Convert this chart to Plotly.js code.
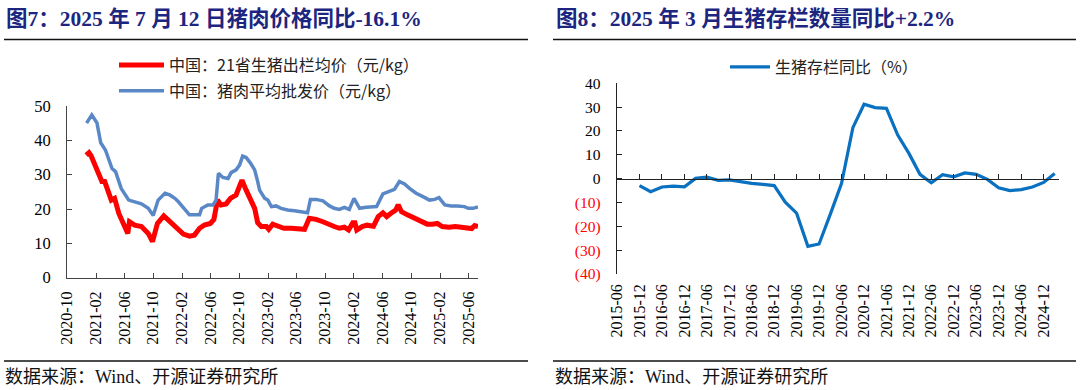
<!DOCTYPE html>
<html>
<head>
<meta charset="utf-8">
<script src="https://cdn.plot.ly/plotly-3.0.1.min.js"></script>
<style>
html,body{margin:0;padding:0;background:#fff;}
#chart{width:1080px;height:390px;}
</style>
</head>
<body>
<div id="chart"></div>
<script>
// ---------- Figure 7 data ----------
const hogDates = ['2020-12-20','2021-01-01','2021-01-10','2021-01-19','2021-01-30','2021-02-08','2021-02-15','2021-02-25','2021-03-09','2021-03-22','2021-04-06','2021-04-20','2021-05-08','2021-05-27','2021-06-15','2021-06-22','2021-07-14','2021-08-12','2021-09-10','2021-09-28','2021-10-19','2021-11-15','2021-12-04','2021-12-24','2022-01-16','2022-02-06','2022-03-04','2022-03-25','2022-04-16','2022-05-06','2022-06-01','2022-06-16','2022-07-01','2022-07-16','2022-08-07','2022-08-25','2022-09-18','2022-10-13','2022-10-31','2022-11-22','2022-12-06','2022-12-19','2023-01-03','2023-01-25','2023-02-04','2023-02-21','2023-03-14','2023-04-09','2023-05-10','2023-06-07','2023-07-06','2023-07-26','2023-08-24','2023-09-22','2023-10-20','2023-11-09','2023-12-01','2023-12-22','2024-01-09','2024-01-27','2024-02-05','2024-02-13','2024-03-07','2024-03-27','2024-04-24','2024-05-14','2024-06-03','2024-06-19','2024-07-06','2024-07-27','2024-08-07','2024-08-21','2024-09-15','2024-10-13','2024-11-10','2024-12-08','2024-12-30','2025-01-20','2025-02-10','2025-03-10','2025-04-07','2025-05-05','2025-06-01','2025-06-15','2025-06-28','2025-07-12'];
const hogPrice = [35.7,36.4,35.5,34.0,31.4,30.0,29.4,28.0,28.0,25.5,22.6,23.1,18.7,15.8,12.9,16.3,15.3,14.9,12.9,10.5,15.8,18.0,16.8,15.8,14.4,12.7,12.1,12.4,14.4,15.3,15.8,17.0,22.6,21.2,21.5,23.1,24.1,28.4,25.5,22.1,20.2,16.0,14.9,14.9,14.1,15.6,14.9,14.4,14.4,14.4,14.1,17.3,17.0,16.3,15.3,14.9,14.4,14.7,13.9,16.0,16.0,13.9,14.9,15.3,15.0,17.8,18.9,17.8,18.7,19.7,21.2,19.2,18.3,17.3,16.6,15.6,15.6,15.8,14.9,14.7,14.9,14.6,14.1,14.3,15.2,14.9];

const porkDates = ['2020-12-22','2021-01-13','2021-02-04','2021-02-20','2021-03-12','2021-04-09','2021-04-24','2021-05-18','2021-06-19','2021-07-14','2021-08-12','2021-09-10','2021-10-01','2021-10-22','2021-11-20','2021-12-10','2022-01-01','2022-01-16','2022-02-13','2022-03-04','2022-04-01','2022-04-16','2022-04-25','2022-05-21','2022-06-12','2022-06-25','2022-07-05','2022-07-24','2022-08-15','2022-08-28','2022-09-18','2022-10-03','2022-10-16','2022-10-31','2022-11-19','2022-12-06','2022-12-19','2022-12-27','2023-01-18','2023-01-31','2023-02-15','2023-03-07','2023-03-28','2023-04-25','2023-05-24','2023-06-21','2023-07-19','2023-07-31','2023-08-24','2023-09-22','2023-10-20','2023-11-09','2023-12-01','2023-12-22','2024-01-12','2024-02-01','2024-02-25','2024-03-24','2024-04-21','2024-05-07','2024-06-03','2024-07-01','2024-07-22','2024-08-12','2024-09-03','2024-09-24','2024-10-22','2024-11-20','2024-12-18','2025-01-09','2025-01-27','2025-02-21','2025-03-20','2025-04-16','2025-05-15','2025-06-01','2025-06-20','2025-07-12'];
const porkPrice = [45.0,47.4,45.1,39.3,37.2,31.8,30.9,26.0,22.6,22.1,21.5,20.2,18.1,22.6,24.6,24.1,23.1,22.1,19.7,18.3,18.3,18.3,20.2,21.2,21.2,22.6,30.4,29.2,28.9,30.6,31.4,32.8,35.4,35.0,33.3,31.4,28.0,25.5,23.1,22.6,20.7,20.9,20.2,19.7,19.5,19.2,18.9,22.8,22.8,22.4,20.9,20.2,19.9,20.5,19.9,23.1,20.2,20.5,20.5,20.7,24.4,25.0,25.7,28.0,27.3,26.0,24.6,23.6,22.6,22.8,23.3,21.2,20.9,20.9,20.7,20.2,20.2,20.6];

const leftTickLabels = ['2020-10','2021-02','2021-06','2021-10','2022-02','2022-06','2022-10','2023-02','2023-06','2023-10','2024-02','2024-06','2024-10','2025-02','2025-06'];
const leftYTicks = [0,10,20,30,40,50];

// ---------- Figure 8 data ----------
const stockDates = ['2015-12','2016-03','2016-06','2016-09','2016-12','2017-03','2017-06','2017-09','2017-12','2018-03','2018-06','2018-09','2018-12','2019-03','2019-06','2019-09','2019-12','2020-03','2020-06','2020-09','2020-12','2021-03','2021-06','2021-09','2021-12','2022-03','2022-06','2022-09','2022-12','2023-03','2023-06','2023-09','2023-12','2024-03','2024-06','2024-09','2024-12','2025-03'];
const stockYoY = [-2.9,-5.5,-3.5,-3.1,-3.4,0.1,0.6,-0.7,-0.5,-1.3,-2.0,-2.4,-2.9,-9.9,-14.5,-28.4,-27.4,-15.0,-2.0,21.4,31.2,29.8,29.5,18.3,10.6,1.8,-1.7,1.7,0.8,2.4,1.8,-0.3,-3.8,-5.0,-4.6,-3.5,-1.6,2.2];

const rightTickLabels = ['2015-06','2015-12','2016-06','2016-12','2017-06','2017-12','2018-06','2018-12','2019-06','2019-12','2020-06','2020-12','2021-06','2021-12','2022-06','2022-12','2023-06','2023-12','2024-06','2024-12'];
const rightYTicks = [-40,-30,-20,-10,0,10,20,30,40];

// ---------- styles ----------
const serif = 'Liberation Serif, Times New Roman, Noto Sans CJK SC, serif';
const cjk = 'Noto Sans CJK SC, Liberation Serif, sans-serif';
const navy = '#1c2680';
const axisCol = '#444';
const W = 1080, H = 390;
const px = x => x / W;
const py = y => 1 - y / H;
const toDate = s => s.length === 7 ? s + '-01' : s;

const rightRange = ['2015-06-01', '2025-04-01'];
const rightDomain = [px(617), px(1058.5)];
const rightY = [py(274), py(83.3)];
const zeroPos = rightY[0] + (rightY[1] - rightY[0]) / 2;

const traces = [
  {x: hogDates, y: hogPrice, type: 'scatter', mode: 'lines', name: '中国：21省生猪出栏均价（元/kg）',
   line: {color: '#ff0000', width: 5}, xaxis: 'x', yaxis: 'y', legend: 'legend', legendgroup: 'a'},
  {x: porkDates, y: porkPrice, type: 'scatter', mode: 'lines', name: '中国：猪肉平均批发价（元/kg）',
   line: {color: '#5a88c6', width: 3.5}, xaxis: 'x', yaxis: 'y', legend: 'legend', legendgroup: 'b'},
  {x: stockDates.map(toDate), y: stockYoY, type: 'scatter', mode: 'lines', name: '生猪存栏同比（%）',
   line: {color: '#0a70c0', width: 3.2}, xaxis: 'x2', yaxis: 'y2', legend: 'legend2'},
  // empty helper trace so the zero-line axis (x3/y3) is drawn
  {x: [], y: [], type: 'scatter', mode: 'lines', xaxis: 'x3', yaxis: 'y3', showlegend: false, hoverinfo: 'skip'}
];

const rightTickText = rightYTicks.map(v => v < 0 ? '<span style="color:#ff0000">(' + Math.abs(v) + ')</span>' : String(v));

const layout = {
  width: W, height: H,
  margin: {l: 0, r: 0, t: 0, b: 0},
  paper_bgcolor: '#fff', plot_bgcolor: 'rgba(0,0,0,0)',
  font: {family: serif, color: '#000'},
  xaxis: {
    domain: [px(67.3), px(478)], anchor: 'y', type: 'date',
    range: ['2020-10-01', '2025-07-12'],
    tickvals: leftTickLabels.map(toDate), ticktext: leftTickLabels,
    tickangle: -90, tickfont: {family: serif, size: 16, color: '#000'},
    ticks: 'inside', ticklen: 5, tickcolor: axisCol,
    showline: true, linecolor: axisCol, linewidth: 1.3,
    showgrid: false, zeroline: false, ticklabelstandoff: 6
  },
  yaxis: {
    domain: [py(277.7), py(106)], anchor: 'x',
    range: [0, 50], tickvals: leftYTicks,
    tickfont: {family: serif, size: 16.5, color: '#000'},
    ticks: 'inside', ticklen: 5, tickcolor: axisCol,
    showline: true, linecolor: axisCol, linewidth: 1.3,
    showgrid: false, zeroline: false, ticklabelstandoff: 12
  },
  xaxis2: {
    domain: rightDomain, anchor: 'y2', type: 'date', range: rightRange,
    tickvals: rightTickLabels.map(toDate), ticktext: rightTickLabels,
    tickangle: -90, tickfont: {family: serif, size: 16, color: '#000'},
    ticks: '', showline: false, showgrid: false, zeroline: false, ticklabelstandoff: 6
  },
  yaxis2: {
    domain: rightY, anchor: 'x2',
    range: [-40, 40], tickvals: rightYTicks, ticktext: rightTickText,
    tickfont: {family: serif, size: 15.5, color: '#000'},
    ticks: 'inside', ticklen: 5, tickcolor: '#222',
    showline: true, linecolor: '#222', linewidth: 1.3,
    showgrid: false, zeroline: false, ticklabelstandoff: 12
  },
  xaxis3: {
    domain: rightDomain, anchor: 'y3', type: 'date', range: rightRange,
    tickvals: rightTickLabels.map(toDate), showticklabels: false,
    ticks: 'inside', ticklen: 5, tickcolor: '#222',
    showline: true, linecolor: '#222', linewidth: 1.3, showgrid: false, zeroline: false
  },
  yaxis3: {
    domain: [zeroPos, zeroPos + 0.01], anchor: 'x3', range: [0, 1],
    visible: false, showgrid: false, zeroline: false
  },
  showlegend: true,
  legend: {
    x: px(114), y: py(48), xanchor: 'left', yanchor: 'top',
    orientation: 'v', traceorder: 'grouped', tracegroupgap: 2,
    bgcolor: 'rgba(0,0,0,0)', borderwidth: 0,
    font: {family: cjk, size: 16, color: '#222'}, itemwidth: 45
  },
  legend2: {
    x: px(725), y: py(50), xanchor: 'left', yanchor: 'top',
    bgcolor: 'rgba(0,0,0,0)', borderwidth: 0,
    font: {family: cjk, size: 16, color: '#222'}, itemwidth: 40
  },
  annotations: [
    {text: '<b>图7：2025 年 7 月 12 日猪肉价格同比-16.1%</b>', xref: 'paper', yref: 'paper',
     x: px(4), y: py(19), xanchor: 'left', yanchor: 'middle', showarrow: false,
     font: {family: serif, size: 21.5, color: navy}},
    {text: '<b>图8：2025 年 3 月生猪存栏数量同比+2.2%</b>', xref: 'paper', yref: 'paper',
     x: px(554), y: py(19), xanchor: 'left', yanchor: 'middle', showarrow: false,
     font: {family: serif, size: 21.5, color: navy}},
    {text: '数据来源：Wind、开源证券研究所', xref: 'paper', yref: 'paper',
     x: px(3), y: py(377), xanchor: 'left', yanchor: 'middle', showarrow: false,
     font: {family: serif, size: 18, color: '#111'}},
    {text: '数据来源：Wind、开源证券研究所', xref: 'paper', yref: 'paper',
     x: px(553), y: py(377), xanchor: 'left', yanchor: 'middle', showarrow: false,
     font: {family: serif, size: 18, color: '#111'}}
  ],
  shapes: [
    {type: 'line', xref: 'paper', yref: 'paper', x0: px(4), x1: px(528), y0: py(39.5), y1: py(39.5), line: {color: '#111', width: 1.5}},
    {type: 'line', xref: 'paper', yref: 'paper', x0: px(553), x1: px(1076), y0: py(39.5), y1: py(39.5), line: {color: '#111', width: 1.5}},
    {type: 'line', xref: 'paper', yref: 'paper', x0: px(4), x1: px(528), y0: py(361), y1: py(361), line: {color: '#111', width: 1.5}},
    {type: 'line', xref: 'paper', yref: 'paper', x0: px(553), x1: px(1076), y0: py(361), y1: py(361), line: {color: '#111', width: 1.5}}
  ]
};

Plotly.newPlot('chart', traces, layout, {staticPlot: true, displayModeBar: false});
</script>
</body>
</html>
